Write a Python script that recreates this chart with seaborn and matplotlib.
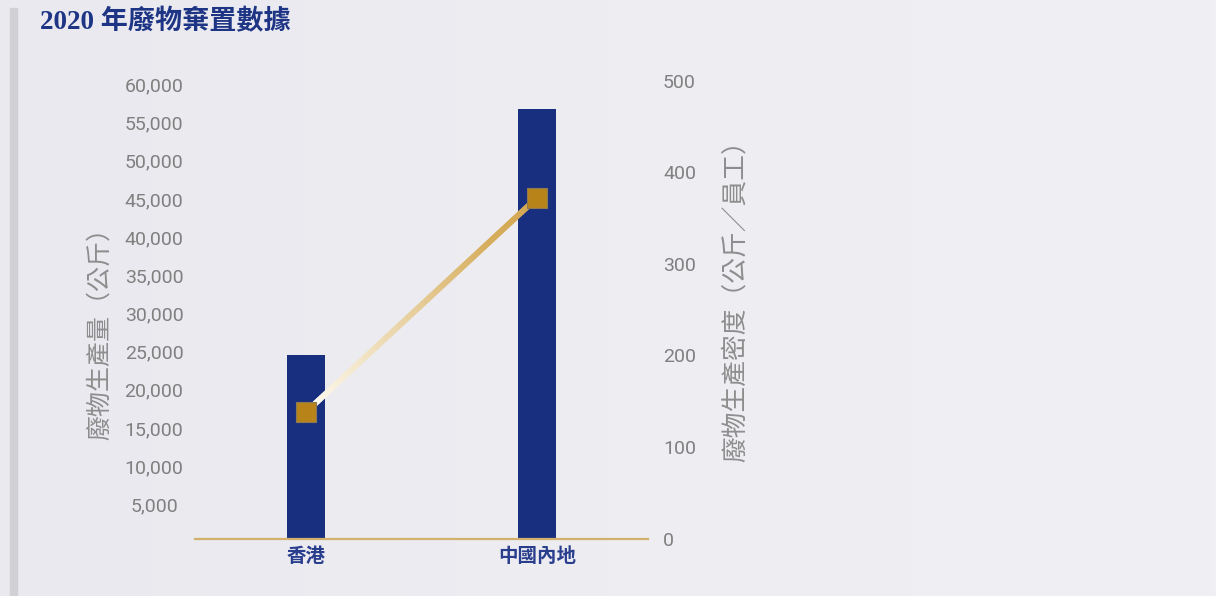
import numpy as np
import pandas as pd
import matplotlib
matplotlib.use("Agg")
import matplotlib.pyplot as plt
import seaborn as sns
from matplotlib.collections import LineCollection
from matplotlib.colors import LinearSegmentedColormap
from matplotlib.transforms import ScaledTranslation
from matplotlib.patches import Rectangle

# ---- data -------------------------------------------------------------
regions = ["香港", "中國內地"]
waste_kg = [24000, 56300]            # total waste generated (kg)
waste_per_staff = [138, 372]         # waste intensity (kg / employee)
left_ticks = list(range(5000, 60001, 5000))
right_ticks = list(range(0, 501, 100))

# ---- style ------------------------------------------------------------
sns.set_style("white")
plt.rcParams["font.family"] = ["Noto Sans CJK TC", "DejaVu Sans"]

NAVY = "#182F7F"
GOLD_AXIS = "#D3B16C"
MARKER = "#B8841A"
TICK_GRAY = "#808080"
LABEL_GRAY = "#8D8D8D"
NUM_FONT = ["Liberation Sans Narrow", "Roboto", "DejaVu Sans"]

W, H = 1216, 596
fig = plt.figure(figsize=(W / 100, H / 100), dpi=100)

# soft background wash
bg = fig.add_axes([0, 0, 1, 1], zorder=-10)
bg.axis("off")
bg_cmap = LinearSegmentedColormap.from_list("bg", ["#E9E9EF", "#EDEDF2", "#F0F0F4"])
bg.imshow(np.linspace(0, 1, 256).reshape(1, -1), aspect="auto", cmap=bg_cmap,
          extent=[0, 1, 0, 1])

# vertical accent rule on the left edge
fig.add_artist(Rectangle((10 / W, 0), 7 / W, 588 / H, transform=fig.transFigure,
                         color="#D1D1D5", zorder=1))

# title
fig.text(40 / W, 1 - 22 / H, "2020 年廢物棄置數據", ha="left", va="center",
         fontsize=19.5, color="#1E3585", weight="bold",
         family=["Liberation Serif", "Noto Sans CJK TC"])

# ---- bars: total waste ----------------------------------------------
ax = fig.add_axes([195 / W, 57.5 / H, 453 / W, 458 / H])
ax.set_facecolor("none")
df = pd.DataFrame({"region": regions, "kg": waste_kg})
sns.barplot(data=df, x="region", y="kg", ax=ax, color=NAVY, saturation=1,
            width=0.165, linewidth=0, zorder=2)
ax.set_xlim(-0.48, 1.48)
ax.set_ylim(0, 60000)
ax.set_xlabel("")
ax.set_ylabel("")
for side in ["top", "right", "left"]:
    ax.spines[side].set_visible(False)
ax.spines["bottom"].set_color(GOLD_AXIS)
ax.spines["bottom"].set_linewidth(1.6)
ax.spines["bottom"].set_zorder(3)
ax.set_yticks(left_ticks)
ax.set_yticklabels([f"{v:,}" for v in left_ticks])
ax.tick_params(axis="y", length=0, pad=29.5, labelsize=14, labelcolor=TICK_GRAY)
ax.tick_params(axis="x", length=0, pad=6, labelsize=14, labelcolor="#2A3E8E")
for lab in ax.get_yticklabels():
    lab.set_ha("center")
    lab.set_fontfamily(NUM_FONT)
    lab.set_transform(lab.get_transform()
                      + ScaledTranslation(0, -0.04, fig.dpi_scale_trans))
for lab in ax.get_xticklabels():
    lab.set_fontweight("bold")

# ---- line: waste intensity ------------------------------------------
ax2 = ax.twinx()
ax2.set_ylim(0, 500)
for side in ax2.spines.values():
    side.set_visible(False)
ax2.set_yticks(right_ticks)
ax2.set_yticklabels([str(v) for v in right_ticks])
ax2.tick_params(axis="y", length=0, pad=10.8, labelsize=14, labelcolor=TICK_GRAY)
for lab in ax2.get_yticklabels():
    lab.set_fontfamily(NUM_FONT)

xpos = np.arange(len(regions), dtype=float)
ypos = np.asarray(waste_per_staff, dtype=float)

# gradient stroke: cut the connector into short pieces so the colour can ramp
t = np.linspace(0, 1, 121)
xs = xpos[0] + (xpos[1] - xpos[0]) * t
ys = ypos[0] + (ypos[1] - ypos[0]) * t
pts = np.column_stack([xs, ys]).reshape(-1, 1, 2)
segs = np.concatenate([pts[:-1], pts[1:]], axis=1)
line_cmap = LinearSegmentedColormap.from_list(
    "goldramp", [(0, "#FFFDF6"), (0.45, "#E8D0A0"), (0.8, "#D6AD5C"), (1, "#D4A853")])
lc = LineCollection(segs, cmap=line_cmap, linewidths=4.2, capstyle="round", zorder=3)
lc.set_array(t[:-1])
lc.set_clim(0, 1)
ax2.add_collection(lc)

sns.scatterplot(x=xpos, y=ypos, ax=ax2, marker="s", s=190, color=MARKER,
                edgecolor="#8C7A55", linewidth=0.8, zorder=4, legend=False)
ax2.set_xlim(-0.48, 1.48)

# axis titles
fig.text(100 / W, 1 - 327 / H, "廢物生產量（公斤）", rotation=90, ha="center",
         va="center", fontsize=18, color=LABEL_GRAY, weight="light")
fig.text(736 / W, 1 - 295 / H, "廢物生產密度（公斤／員工）", rotation=90, ha="center",
         va="center", fontsize=18.5, color=LABEL_GRAY, weight="light")

fig.savefig("out.png", dpi=100)
